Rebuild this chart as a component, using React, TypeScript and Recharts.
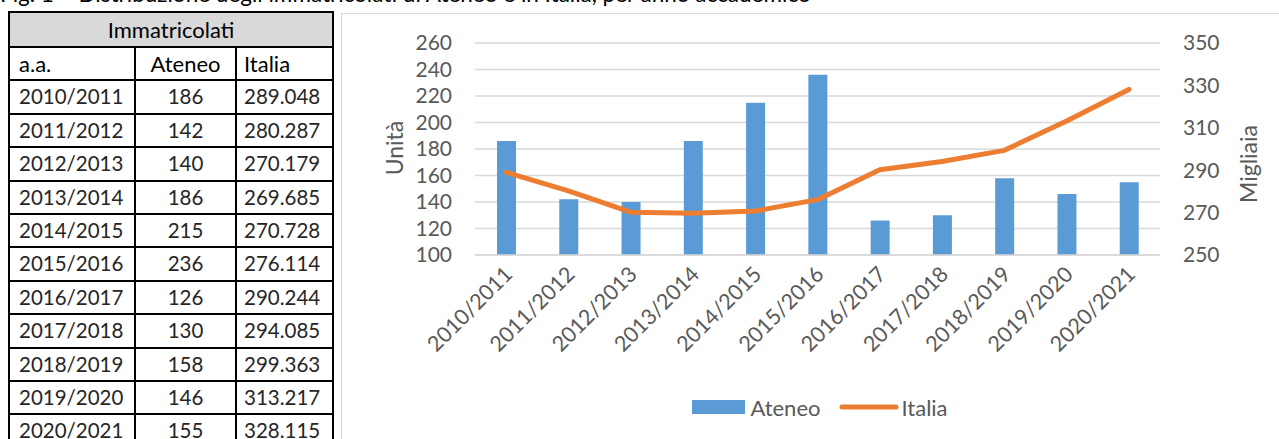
import React from 'react';
import { ComposedChart, Bar, Line, XAxis, YAxis, CartesianGrid, Legend, Label } from 'recharts';

const titleText = 'Fig. 1 – Distribuzione degli immatricolati di Ateneo e in Italia, per anno accademico';
const tableTitle = 'Immatricolati';
const tableHeaders = ['a.a.', 'Ateneo', 'Italia'];
const categories = ['2010/2011', '2011/2012', '2012/2013', '2013/2014', '2014/2015', '2015/2016', '2016/2017', '2017/2018', '2018/2019', '2019/2020', '2020/2021'];
const ateneo = [186, 142, 140, 186, 215, 236, 126, 130, 158, 146, 155];
const italia = [289.048, 280.287, 270.179, 269.685, 270.728, 276.114, 290.244, 294.085, 299.363, 313.217, 328.115];
const leftTicks = [100, 120, 140, 160, 180, 200, 220, 240, 260];
const rightTicks = [250, 270, 290, 310, 330, 350];
const seriesNames = ['Ateneo', 'Italia'];
const axisTitles = ['Unità', 'Migliaia'];

const FONT = 'Lato, "Open Sans", sans-serif';
const BLUE = '#5b9bd5';
const ORANGE = '#ed7d31';
const GRAY = '#595959';

const data = categories.map((c, i) => ({ name: c, ateneo: ateneo[i], italia: italia[i] }));

const XTick = (props: any) => {
  const { x, y, payload } = props;
  const tx = x + 2;
  return (
    <text
      x={tx}
      y={y}
      transform={`rotate(-45, ${tx}, ${y})`}
      textAnchor="end"
      dominantBaseline="central"
      fill={GRAY}
      fontSize={21.5}
      fontFamily={FONT}
    >
      {payload.value}
    </text>
  );
};

const renderLegend = () => (
  <div
    style={{
      display: 'flex',
      justifyContent: 'center',
      alignItems: 'center',
      height: 40,
      paddingLeft: 8,
      fontFamily: FONT,
      fontSize: 22,
      color: GRAY,
    }}
  >
    <span style={{ display: 'inline-block', width: 53, height: 14, background: BLUE, marginRight: 5 }} />
    <span>{seriesNames[0]}</span>
    <svg width={62} height={10} style={{ marginLeft: 18, marginRight: 1 }}>
      <line x1={4} y1={5} x2={58} y2={5} stroke={ORANGE} strokeWidth={5} strokeLinecap="round" />
    </svg>
    <span>{seriesNames[1]}</span>
  </div>
);

const TABLE_LEFT = 9;
const COLS = [9, 135, 236, 333];
const HEADER_TOP = 12;
const HEADER_BOTTOM = 47;
const ROW_H = 33.4;

function Table() {
  const rows: string[][] = [tableHeaders, ...categories.map((c, i) => [c, String(ateneo[i]), italia[i].toFixed(3)])];
  const hLines = [HEADER_TOP, HEADER_BOTTOM, ...rows.map((_, i) => HEADER_BOTTOM + (i + 1) * ROW_H)];
  const width = COLS[3] - COLS[0];
  return (
    <div style={{ position: 'absolute', left: 0, top: 0 }}>
      <div style={{ position: 'absolute', left: TABLE_LEFT, top: HEADER_TOP, width, height: HEADER_BOTTOM - HEADER_TOP, background: '#d9d9d9' }} />
      <div style={{ position: 'absolute', left: TABLE_LEFT, top: HEADER_TOP, width, height: HEADER_BOTTOM - HEADER_TOP, lineHeight: `${HEADER_BOTTOM - HEADER_TOP}px`, textAlign: 'center', fontSize: 22, color: '#000' }}>
        {tableTitle}
      </div>
      {rows.map((r, i) => {
        const top = HEADER_BOTTOM + i * ROW_H;
        const color = i === 0 ? '#000' : '#262626';
        const fs = i === 0 ? 22 : 20.5;
        return (
          <React.Fragment key={i}>
            <div style={{ position: 'absolute', left: COLS[0] + 10, top, height: ROW_H, lineHeight: `${ROW_H}px`, fontSize: fs, color }}>{r[0]}</div>
            <div style={{ position: 'absolute', left: COLS[1], width: COLS[2] - COLS[1], top, height: ROW_H, lineHeight: `${ROW_H}px`, textAlign: 'center', fontSize: fs, color }}>{r[1]}</div>
            <div style={{ position: 'absolute', left: COLS[2] + 8, top, height: ROW_H, lineHeight: `${ROW_H}px`, fontSize: fs, color }}>{r[2]}</div>
          </React.Fragment>
        );
      })}
      {hLines.map((y, i) => (
        <div key={'h' + i} style={{ position: 'absolute', left: COLS[0] - 1, top: y - 1, width: width + 2, height: 2, background: '#000' }} />
      ))}
      {COLS.map((x, i) => (
        <div key={'v' + i} style={{ position: 'absolute', left: x - 1, top: i === 0 || i === 3 ? HEADER_TOP - 1 : HEADER_BOTTOM - 1, width: 2, height: 500, background: '#000' }} />
      ))}
    </div>
  );
}

export default function App() {
  return (
    <div style={{ position: 'absolute', left: 0, top: 0, width: 1279, height: 439, overflow: 'hidden', background: '#fff', fontFamily: FONT }}>
      <div style={{ position: 'absolute', left: 0, top: -16, fontSize: 22.5, lineHeight: '20px', color: '#000', whiteSpace: 'nowrap' }}>{titleText}</div>
      <Table />
      <div style={{ position: 'absolute', left: 341, top: 13, width: 1000, height: 500, border: '1.5px solid #d9d9d9', boxSizing: 'border-box' }} />
      <div style={{ position: 'absolute', left: 341, top: 13 }}>
        <ComposedChart width={950} height={440} data={data} margin={{ top: 30, right: 0, bottom: 26, left: 0 }}>
          <CartesianGrid yAxisId="left" vertical={false} stroke="#d9d9d9" strokeWidth={1.5} />
          <XAxis
            dataKey="name"
            height={132}
            interval={0}
            tickLine={false}
            tickSize={0}
            tickMargin={15}
            axisLine={{ stroke: '#d9d9d9', strokeWidth: 1.5 }}
            tick={<XTick />}
          />
          <YAxis
            yAxisId="left"
            orientation="left"
            width={134}
            domain={[100, 260]}
            ticks={leftTicks}
            interval={0}
            axisLine={false}
            tickLine={false}
            tickSize={0}
            tickMargin={23}
            tick={{ fill: GRAY, fontSize: 21, fontFamily: FONT }}
          >
            <Label
              content={(p: any) => {
                const vb = p.viewBox;
                const x = vb.x + 53;
                const y = vb.y + vb.height / 2 - 1;
                return (
                  <text x={x} y={y} transform={`rotate(-90, ${x}, ${y})`} textAnchor="middle" dominantBaseline="central" fill={GRAY} fontSize={23} fontFamily={FONT}>
                    {axisTitles[0]}
                  </text>
                );
              }}
            />
          </YAxis>
          <YAxis
            yAxisId="right"
            orientation="right"
            width={131}
            domain={[250, 350]}
            ticks={rightTicks}
            interval={0}
            axisLine={false}
            tickLine={false}
            tickSize={0}
            tickMargin={23}
            tick={{ fill: GRAY, fontSize: 21, fontFamily: FONT }}
          >
            <Label
              content={(p: any) => {
                const vb = p.viewBox;
                const x = vb.x + 88;
                const y = vb.y + vb.height / 2 + 15;
                return (
                  <text x={x} y={y} transform={`rotate(-90, ${x}, ${y})`} textAnchor="middle" dominantBaseline="central" fill={GRAY} fontSize={23} fontFamily={FONT}>
                    {axisTitles[1]}
                  </text>
                );
              }}
            />
          </YAxis>
          <Legend verticalAlign="bottom" height={40} wrapperStyle={{ height: 40 }} content={renderLegend} />
          <Bar yAxisId="left" dataKey="ateneo" name={seriesNames[0]} fill={BLUE} barSize={19} isAnimationActive={false} />
          <Line
            yAxisId="right"
            type="linear"
            dataKey="italia"
            name={seriesNames[1]}
            stroke={ORANGE}
            strokeWidth={5}
            strokeLinecap="round"
            strokeLinejoin="round"
            dot={false}
            activeDot={false}
            isAnimationActive={false}
          />
        </ComposedChart>
      </div>
    </div>
  );
}
